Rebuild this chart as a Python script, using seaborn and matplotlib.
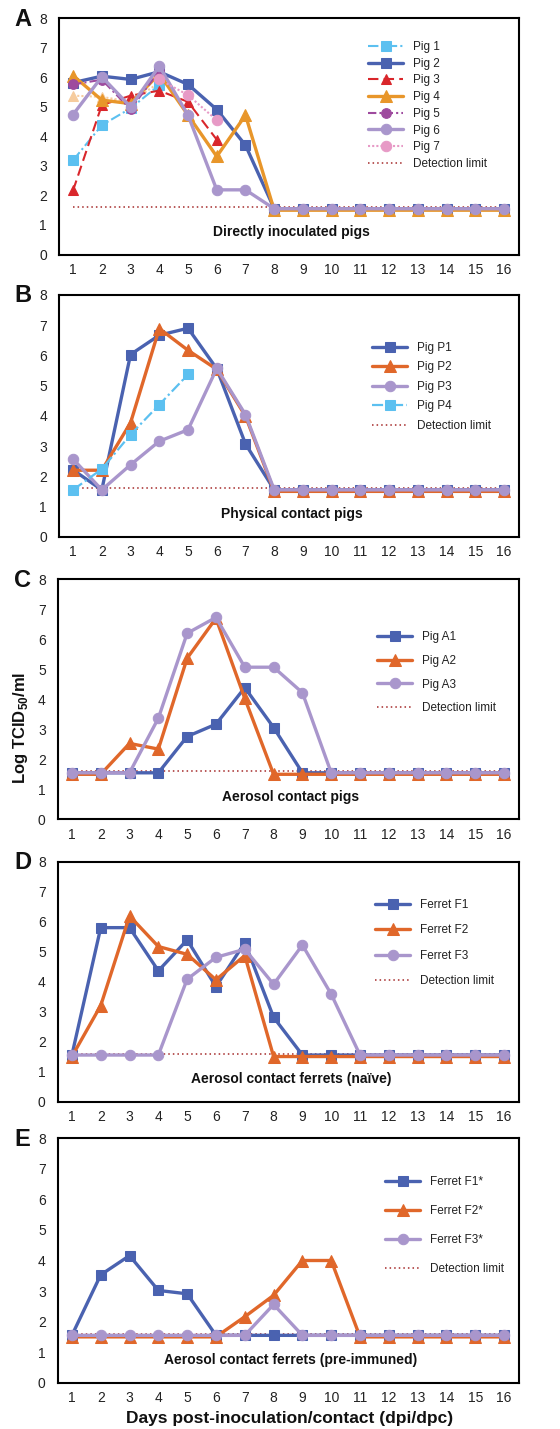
import matplotlib
matplotlib.use("Agg")
import matplotlib.pyplot as plt
import seaborn as sns
import numpy as np
import pandas as pd

sns.set_theme(style="white")
plt.rcParams['font.family'] = ['Liberation Sans', 'DejaVu Sans']

days = list(range(1, 17))
detection_limit = 1.6

# Panel A: directly inoculated pigs
pig1 = [3.19, 4.38, 4.95, 5.74]
pig2 = [5.82, 6.04, 5.93, 6.19, 5.76, 4.91, 3.70, 1.55, 1.55, 1.55, 1.55, 1.55, 1.55, 1.55, 1.55, 1.55]
pig3 = [2.17, 5.06, 5.38, 5.55, 5.17, 3.89]
pig4 = [6.06, 5.23, 5.11, 6.12, 4.72, 3.32, 4.72, 1.5, 1.5, 1.5, 1.5, 1.5, 1.5, 1.5, 1.5, 1.5]
pig5 = [5.76, 5.92, 4.92, 6.22]
pig6 = [4.74, 6.02, 5.0, 6.38, 4.72, 2.19, 2.19, 1.55, 1.55, 1.55, 1.55, 1.55, 1.55, 1.55, 1.55, 1.55]
pig7 = [None, None, None, 5.93, 5.40, 4.55]
pig_extra = [5.38, 5.34, 5.17, 5.82]

# Panel B: physical contact pigs
pigP1 = [2.21, 1.55, 6.03, 6.67, 6.90, 5.56, 3.07, 1.55, 1.55, 1.55, 1.55, 1.55, 1.55, 1.55, 1.55, 1.55]
pigP2 = [2.2, 2.2, 3.77, 6.89, 6.17, 5.54, 3.99, 1.5, 1.5, 1.5, 1.5, 1.5, 1.5, 1.5, 1.5, 1.5]
pigP3 = [2.57, 1.55, 2.38, 3.16, 3.54, 5.57, 4.04, 1.55, 1.55, 1.55, 1.55, 1.55, 1.55, 1.55, 1.55, 1.55]
pigP4 = [1.55, 2.24, 3.38, 4.37, 5.37]

# Panel C: aerosol contact pigs
pigA1 = [1.55, 1.55, 1.55, 1.55, 2.76, 3.17, 4.39, 3.06, 1.55, 1.55, 1.55, 1.55, 1.55, 1.55, 1.55, 1.55]
pigA2 = [1.5, 1.5, 2.53, 2.34, 5.37, 6.70, 4.03, 1.5, 1.5, 1.5, 1.5, 1.5, 1.5, 1.5, 1.5, 1.5]
pigA3 = [1.55, 1.55, 1.55, 3.37, 6.20, 6.73, 5.07, 5.07, 4.22, 1.55, 1.55, 1.55, 1.55, 1.55, 1.55, 1.55]

# Panel D: aerosol contact ferrets (naive)
ferF1 = [1.55, 5.80, 5.80, 4.36, 5.39, 3.83, 5.30, 2.81, 1.55, 1.55, 1.55, 1.55, 1.55, 1.55, 1.55, 1.55]
ferF2 = [1.5, 3.20, 6.19, 5.17, 4.91, 4.06, 4.87, 1.5, 1.5, 1.5, 1.5, 1.5, 1.5, 1.5, 1.5, 1.5]
ferF3 = [1.55, 1.55, 1.55, 1.55, 4.08, 4.81, 5.08, 3.91, 5.22, 3.58, 1.55, 1.55, 1.55, 1.55, 1.55, 1.55]

# Panel E: aerosol contact ferrets (pre-immuned)
ferF1s = [1.55, 3.53, 4.16, 3.02, 2.91, 1.55, 1.55, 1.55, 1.55, 1.55, 1.55, 1.55, 1.55, 1.55, 1.55, 1.55]
ferF2s = [1.5, 1.5, 1.5, 1.5, 1.5, 1.5, 2.16, 2.86, 4.0, 4.0, 1.5, 1.5, 1.5, 1.5, 1.5, 1.5]
ferF3s = [1.55, 1.55, 1.55, 1.55, 1.55, 1.55, 1.55, 2.56, 1.55, 1.55, 1.55, 1.55, 1.55, 1.55, 1.55, 1.55]

panel_letters = ["A", "B", "C", "D", "E"]
panel_titles = ["Directly inoculated pigs", "Physical contact pigs", "Aerosol contact pigs",
                "Aerosol contact ferrets (naïve)", "Aerosol contact ferrets (pre-immuned)"]
ytick_labels = ["0", "1", "2", "3", "4", "5", "6", "7", "8"]
xlabel = "Days post-inoculation/contact (dpi/dpc)"
ylabel = r"Log TCID$_{\mathregular{50}}$/ml"

BLUE = '#4A62B0'
LBLUE = '#5CC0F0'
RED = '#D9262B'
ORANGE_A = '#E8962A'
PURPLE = '#9E4A9E'
LAV = '#A996CC'
PINK = '#E79AC6'
TAN = '#F6CC9E'
ORANGE = '#E0672A'
DLRED = '#A52A2A'

W, H = 560, 1429
fig = plt.figure(figsize=(W / 100, H / 100), dpi=100)

# axes boxes in pixels: (left, top, right, bottom)
boxes = [(58.7, 18.3, 518.5, 254.5), (58.7, 295, 518.5, 536.7), (57.5, 579.3, 518.5, 819.3),
         (57.5, 861.7, 518.5, 1101.5), (57.5, 1138.3, 518.5, 1382.7)]

def mk_ax(b):
    l, t, r, bt = b
    return fig.add_axes([l / W, 1 - bt / H, (r - l) / W, (bt - t) / H])

def series_df(vals, name):
    d = pd.DataFrame({"day": days[:len(vals)], "value": vals})
    d["value"] = pd.to_numeric(d["value"])
    d = d.dropna()
    d["series"] = name
    return d

def draw(ax, vals, name, color, marker, lw, ls, ms, label=True):
    d = series_df(vals, name)
    sns.lineplot(data=d, x="day", y="value", ax=ax, color=color, marker=marker,
                 linewidth=lw, linestyle=ls, markersize=ms, markeredgecolor=color,
                 label=name if label else "_nolegend_", legend=False)

axes = [mk_ax(b) for b in boxes]

# Panel A
ax = axes[0]
draw(ax, pig_extra, "Pig extra", TAN, '^', 1.5, (0, (1, 1)), 7, label=False)
draw(ax, pig1, "Pig 1", LBLUE, 's', 1.5, (0, (5, 1.5, 1, 1.5)), 7)
draw(ax, pig2, "Pig 2", BLUE, 's', 2.4, '-', 7)
draw(ax, pig3, "Pig 3", RED, '^', 1.5, (0, (5, 2.5)), 7)
draw(ax, pig4, "Pig 4", ORANGE_A, '^', 2.4, '-', 8)
draw(ax, pig5, "Pig 5", PURPLE, 'o', 1.5, (0, (4, 1.5, 1, 1.5)), 7)
draw(ax, pig6, "Pig 6", LAV, 'o', 2.4, '-', 7.5)
draw(ax, pig7, "Pig 7", PINK, 'o', 1.5, (0, (1, 1)), 7.5)

# Panel B
ax = axes[1]
draw(ax, pigP1, "Pig P1", BLUE, 's', 2.4, '-', 7)
draw(ax, pigP2, "Pig P2", ORANGE, '^', 2.4, '-', 8)
draw(ax, pigP3, "Pig P3", LAV, 'o', 2.4, '-', 7.5)
draw(ax, pigP4, "Pig P4", LBLUE, 's', 1.6, (0, (5, 1.5, 1, 1.5)), 7)

# Panel C
ax = axes[2]
draw(ax, pigA1, "Pig A1", BLUE, 's', 2.4, '-', 7)
draw(ax, pigA2, "Pig A2", ORANGE, '^', 2.4, '-', 8)
draw(ax, pigA3, "Pig A3", LAV, 'o', 2.4, '-', 7.5)

# Panel D
ax = axes[3]
draw(ax, ferF1, "Ferret F1", BLUE, 's', 2.4, '-', 7)
draw(ax, ferF2, "Ferret F2", ORANGE, '^', 2.4, '-', 8)
draw(ax, ferF3, "Ferret F3", LAV, 'o', 2.4, '-', 7.5)

# Panel E
ax = axes[4]
draw(ax, ferF1s, "Ferret F1*", BLUE, 's', 2.4, '-', 7)
draw(ax, ferF2s, "Ferret F2*", ORANGE, '^', 2.4, '-', 8)
draw(ax, ferF3s, "Ferret F3*", LAV, 'o', 2.4, '-', 7.5)

# legend anchor (handle-left px, first row center px) and labelspacing
leg_pos = [(368, 49, 0.40), (372, 350, 0.63), (377, 639, 1.0), (375, 907, 1.13), (385, 1184, 1.43)]

for i, ax in enumerate(axes):
    ax.plot([days[0], days[-1]], [detection_limit, detection_limit], color=DLRED,
            linestyle=(0, (1, 2)), linewidth=1.1, label="Detection limit", zorder=1)
    ax.set_xlim(0.5, 16.5)
    ax.set_ylim(0, 8)
    ax.set_xticks(days)
    ax.set_xticklabels([str(d) for d in days])
    ax.set_yticks(range(9))
    ax.set_yticklabels(ytick_labels)
    ax.tick_params(axis='both', direction='in', length=4, width=0.8, color='#BBBBBB',
                   labelsize=10, pad=6, labelcolor='#222222')
    ax.tick_params(axis='y', pad=8.5)
    for s in ax.spines.values():
        s.set_visible(True)
        s.set_color('black')
        s.set_linewidth(1.5)
    ax.set_xlabel("")
    ax.set_ylabel("")
    ax.text(8.6, 0.75, panel_titles[i], ha='center', va='center', fontsize=10,
            fontweight='bold', color='#111111')
    hx, cy, lsp = leg_pos[i]
    l, t, r, bt = boxes[i]
    ax_x = (hx - l) / (r - l)
    ax_y = (bt - (cy - 8)) / (bt - t)
    leg = ax.legend(loc='upper left', bbox_to_anchor=(ax_x, ax_y), frameon=False,
                    fontsize=8.5, handlelength=3.0, handletextpad=0.8, borderpad=0,
                    borderaxespad=0, labelspacing=lsp)
    for txt in leg.get_texts():
        txt.set_color('#222222')
    fig.text(14 / W, 1 - (t + 1) / H, panel_letters[i], fontsize=17, fontweight='bold',
             ha='left', va='center', color='#111111')

fig.text(21 / W, 1 - 728 / H, ylabel, rotation=90, fontsize=12, fontweight='bold',
         ha='center', va='center', color='#111111')
fig.text(290 / W, 1 - 1418 / H, xlabel, fontsize=12.5, fontweight='bold',
         ha='center', va='center', color='#111111')

fig.savefig("out.png", dpi=100)
